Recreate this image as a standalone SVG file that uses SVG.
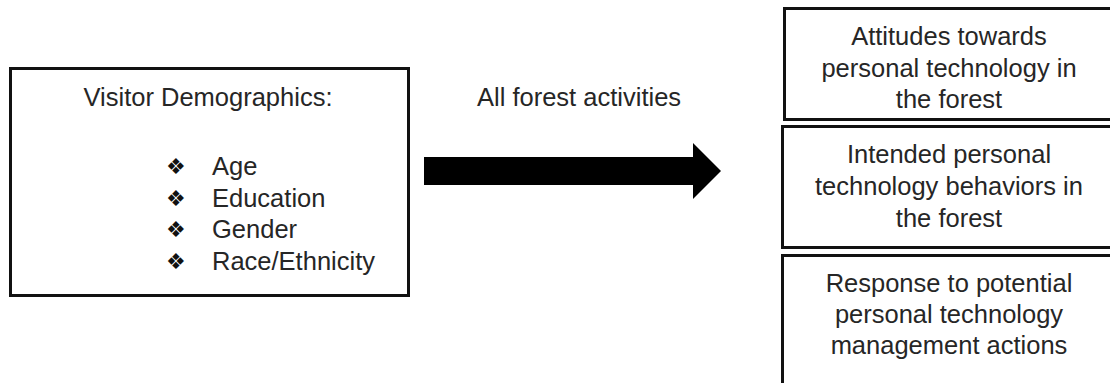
<svg xmlns="http://www.w3.org/2000/svg" width="1110" height="383" viewBox="0 0 1110 383">
  <style>
    .box { fill: #fff; stroke: #111; stroke-width: 3; }
    .lbl { font-family: "Liberation Sans", Arial, sans-serif; font-size: 25.5px; fill: #262626; }
    .mid { text-anchor: middle; }
    .bul { font-family: "DejaVu Sans", sans-serif; font-size: 22px; fill: #111; }
  </style>

  <!-- demographic inputs -->
  <g id="demographics">
    <rect class="box" x="10.5" y="68.5" width="398" height="227"/>
    <text class="lbl mid" x="208" y="106">Visitor Demographics:</text>
    <text class="bul" x="166" y="174">❖</text>
    <text class="lbl" x="212" y="175">Age</text>
    <text class="bul" x="166" y="206">❖</text>
    <text class="lbl" x="212" y="207">Education</text>
    <text class="bul" x="166" y="237">❖</text>
    <text class="lbl" x="212" y="238">Gender</text>
    <text class="bul" x="166" y="269">❖</text>
    <text class="lbl" x="212" y="270">Race/Ethnicity</text>
  </g>

  <!-- block arrow with its label -->
  <g id="connectors">
    <text class="lbl" x="477" y="106">All forest activities</text>
    <polygon points="424,157 693,157 693,143 721,171 693,199 693,185 424,185" fill="#000"/>
  </g>

  <!-- outcome boxes, running off the right edge -->
  <g id="attitudes">
    <rect class="box" x="784.5" y="8.5" width="340" height="111"/>
    <text class="lbl mid" x="949" y="45">Attitudes towards</text>
    <text class="lbl mid" x="949" y="77">personal technology in</text>
    <text class="lbl mid" x="949" y="108">the forest</text>
  </g>
  <g id="behaviors">
    <rect class="box" x="782.5" y="126.5" width="340" height="121"/>
    <text class="lbl mid" x="949" y="163">Intended personal</text>
    <text class="lbl mid" x="949" y="195">technology behaviors in</text>
    <text class="lbl mid" x="949" y="227">the forest</text>
  </g>
  <g id="management">
    <rect class="box" x="782.5" y="255.5" width="340" height="140"/>
    <text class="lbl mid" x="949" y="292">Response to potential</text>
    <text class="lbl mid" x="949" y="323">personal technology</text>
    <text class="lbl mid" x="949" y="354">management actions</text>
  </g>
</svg>
